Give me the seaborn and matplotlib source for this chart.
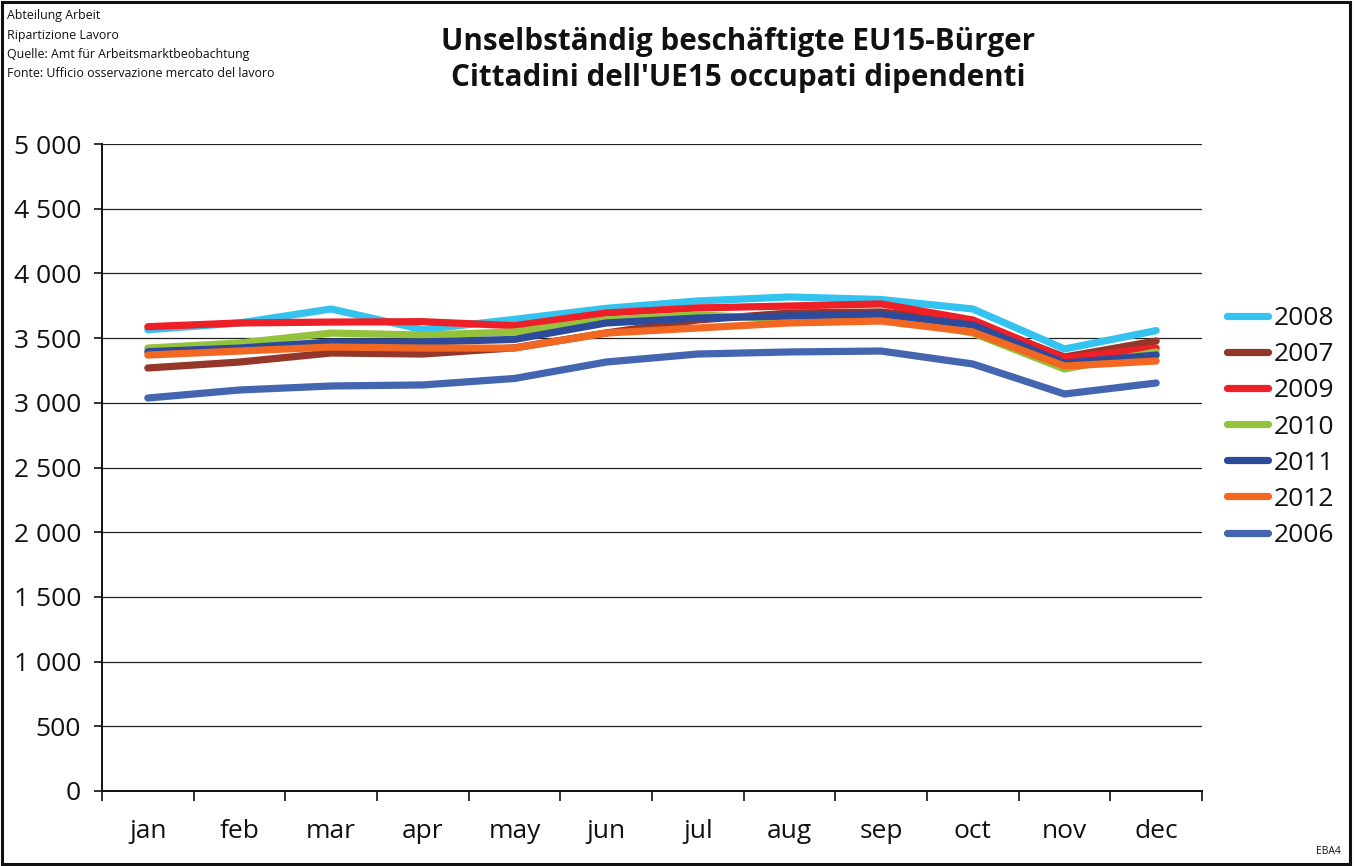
import matplotlib
matplotlib.use("Agg")
import matplotlib.pyplot as plt
from matplotlib.ticker import FuncFormatter, MultipleLocator, FixedLocator
from matplotlib.patches import Rectangle
import pandas as pd
import seaborn as sns

# Monthly employees from EU15 countries, by year
months = ["jan", "feb", "mar", "apr", "may", "jun", "jul", "aug", "sep", "oct", "nov", "dec"]
y2008 = [3565, 3617, 3725, 3565, 3645, 3730, 3787, 3818, 3798, 3725, 3416, 3558]
y2007 = [3269, 3315, 3385, 3377, 3425, 3540, 3640, 3694, 3702, 3625, 3354, 3478]
y2009 = [3588, 3617, 3624, 3627, 3596, 3694, 3733, 3748, 3764, 3640, 3346, 3423]
y2010 = [3423, 3462, 3539, 3524, 3547, 3640, 3679, 3648, 3670, 3539, 3261, 3393]
y2011 = [3395, 3423, 3470, 3470, 3490, 3617, 3655, 3671, 3686, 3601, 3307, 3369]
y2012 = [3369, 3400, 3431, 3423, 3423, 3539, 3578, 3617, 3632, 3547, 3284, 3323]
y2006 = [3037, 3099, 3130, 3138, 3188, 3315, 3377, 3393, 3400, 3300, 3068, 3153]

years = ["2008", "2007", "2009", "2010", "2011", "2012", "2006"]
series = [y2008, y2007, y2009, y2010, y2011, y2012, y2006]
colors = ["#33C3EE", "#94362A", "#EE2027", "#95C23D", "#2E4A9A", "#F26722", "#4466B0"]

rows = []
for yr, vals in zip(years, series):
    for m, v in zip(months, vals):
        rows.append({"month": m, "year": yr, "value": v})
df = pd.DataFrame(rows)

sns.set_theme(style="white")
plt.rcParams["font.family"] = ["Open Sans", "DejaVu Sans"]

fig = plt.figure(figsize=(13.58, 8.66), dpi=100)
ax = fig.add_axes([102 / 1358, 1 - 791 / 866, 1100 / 1358, 647 / 866])

sns.lineplot(data=df, x="month", y="value", hue="year", hue_order=years,
             palette=dict(zip(years, colors)), sort=False, linewidth=5.2,
             ax=ax, legend=True)
for ln in ax.get_lines():
    ln.set_solid_capstyle("round")
    ln.set_solid_joinstyle("round")

ax.set_xlim(-0.5, 11.5)
ax.set_ylim(0, 5000)
ax.yaxis.set_major_locator(MultipleLocator(500))
ax.yaxis.set_major_formatter(FuncFormatter(lambda v, p: f"{int(v):,}".replace(",", " ")))
ax.grid(axis="y", color="#222222", linewidth=0.9)
ax.set_axisbelow(True)
ax.set_xlabel("")
ax.set_ylabel("")

for s in ["top", "right"]:
    ax.spines[s].set_visible(False)
for s in ["left", "bottom"]:
    ax.spines[s].set_color("#111111")
    ax.spines[s].set_linewidth(1.4)

ax.set_xticks(range(len(months)))
ax.set_xticklabels(months)
ax.xaxis.set_minor_locator(FixedLocator([i - 0.5 for i in range(len(months) + 1)]))
ax.tick_params(axis="x", which="major", length=0, pad=20, labelsize=19, labelcolor="#111111")
ax.tick_params(axis="x", which="minor", length=7, width=1.2, color="#111111", direction="out", bottom=True)
ax.tick_params(axis="y", which="major", length=6, width=1.2, color="#111111", direction="out",
               left=True, pad=9, labelsize=19, labelcolor="#111111")

handles, labels = ax.get_legend_handles_labels()
ax.legend_.remove()
leg = fig.legend(handles, labels, loc="center left",
                 bbox_to_anchor=(1214 / 1358, 1 - 427 / 866), frameon=False,
                 fontsize=19, handlelength=1.55, handletextpad=0.22, labelspacing=0.42,
                 borderpad=0)
for h in leg.legend_handles:
    h.set_linewidth(5.2)
    h.set_solid_capstyle("round")
for t in leg.get_texts():
    t.set_color("#111111")

fig.text(738 / 1358, 1 - 42 / 866, "Unselbständig beschäftigte EU15-Bürger",
         ha="center", va="center", fontsize=21.3, fontweight="bold", color="#111111")
fig.text(738 / 1358, 1 - 78 / 866, "Cittadini dell'UE15 occupati dipendenti",
         ha="center", va="center", fontsize=21.3, fontweight="bold", color="#111111")

notes = ["Abteilung Arbeit", "Ripartizione Lavoro",
         "Quelle: Amt für Arbeitsmarktbeobachtung",
         "Fonte: Ufficio osservazione mercato del lavoro"]
for i, t in enumerate(notes):
    fig.text(7 / 1358, 1 - (16 + 19.2 * i) / 866, t, ha="left", va="center",
             fontsize=8.9, color="#111111")

fig.text(1341 / 1358, 1 - 852 / 866, "EBA4", ha="right", va="center", fontsize=7.5, color="#111111")

fig.patches.append(Rectangle((2 / 1358, 2 / 866), 1348 / 1358, 862 / 866,
                             transform=fig.transFigure, fill=False,
                             edgecolor="#111111", linewidth=2.2))

fig.savefig("out.png", dpi=100)
